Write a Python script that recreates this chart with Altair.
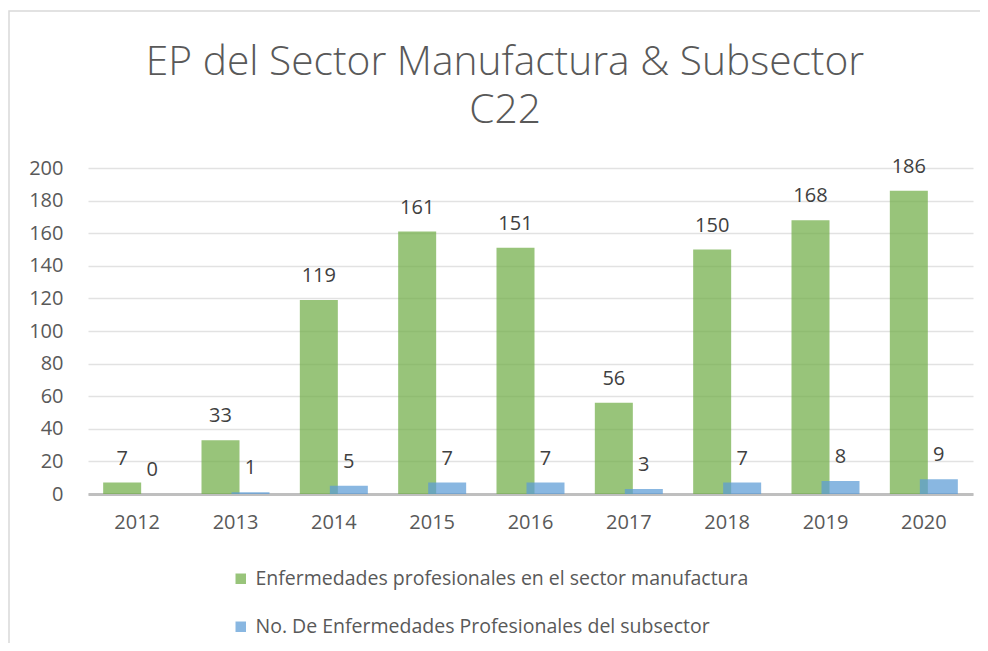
import altair as alt
import pandas as pd

years = ["2012", "2013", "2014", "2015", "2016", "2017", "2018", "2019", "2020"]
sector = [7, 33, 119, 161, 151, 56, 150, 168, 186]
subsector = [0, 1, 5, 7, 7, 3, 7, 8, 9]
series_names = [
    "Enfermedades profesionales en el sector manufactura",
    "No. De Enfermedades Profesionales del subsector",
]
colors = ["#70AD47", "#5B9BD5"]
y_ticks = [0, 20, 40, 60, 80, 100, 120, 140, 160, 180, 200]
title_lines = ["EP del Sector Manufactura & Subsector", "C22"]

rows = []
for y, a, b in zip(years, sector, subsector):
    rows.append({"year": y, "value": a, "series": series_names[0]})
    rows.append({"year": y, "value": b, "series": series_names[1]})
df = pd.DataFrame(rows)

FONT = "Open Sans"
GRAY = "#595959"

x_enc = alt.X(
    "year:N",
    sort=years,
    title=None,
    scale=alt.Scale(paddingInner=0, paddingOuter=0),
    axis=alt.Axis(
        labelAngle=0,
        labelFontSize=20,
        labelColor=GRAY,
        labelFont=FONT,
        labelPadding=18,
        ticks=False,
        domainColor="#bfbfbf",
        domainWidth=3,
        grid=False,
    ),
)
y_enc = alt.Y(
    "value:Q",
    title=None,
    scale=alt.Scale(domain=[0, 200], nice=False),
    axis=alt.Axis(
        values=y_ticks,
        labelFontSize=20,
        labelColor=GRAY,
        labelFont=FONT,
        labelPadding=25,
        ticks=False,
        domain=False,
        grid=True,
        gridColor="#e2e2e2",
        gridWidth=1.5,
    ),
)
color_enc = alt.Color(
    "series:N",
    scale=alt.Scale(domain=series_names, range=colors),
    legend=alt.Legend(
        title=None,
        orient="none",
        legendX=143,
        legendY=401,
        direction="vertical",
        columns=1,
        symbolType="square",
        symbolSize=110,
        symbolStrokeWidth=0,
        labelFontSize=19.5,
        labelFont=FONT,
        labelColor=GRAY,
        labelOffset=5,
        rowPadding=27,
        labelLimit=800,
    ),
)

base = alt.Chart(df)

green_bars = base.transform_filter(alt.datum.series == series_names[0]).mark_bar(
    width=38, xOffset=-15, opacity=0.72
).encode(x=x_enc, y=y_enc, color=color_enc)

blue_bars = base.transform_filter(alt.datum.series == series_names[1]).mark_bar(
    width=38, xOffset=15, opacity=0.72
).encode(x=x_enc, y=y_enc, color=color_enc)

green_text = base.transform_filter(alt.datum.series == series_names[0]).mark_text(
    dx=-15, dy=-18, baseline="alphabetic", fontSize=20, font=FONT, color="#404040"
).encode(x=x_enc, y=y_enc, text="value:Q")

blue_text = base.transform_filter(alt.datum.series == series_names[1]).mark_text(
    dx=15, dy=-18, baseline="alphabetic", fontSize=20, font=FONT, color="#404040"
).encode(x=x_enc, y=y_enc, text="value:Q")

one = pd.DataFrame({"a": [0]})

border = alt.Chart(one).mark_rect(
    fill="transparent", stroke="#d9d9d9", strokeWidth=1.5
).encode(
    x=alt.value(-79),
    x2=alt.value(1000),
    y=alt.value(-157),
    y2=alt.value(700),
)

title_style = dict(
    fontSize=40.7,
    font=FONT,
    fontWeight=300,
    color=GRAY,
    align="center",
    baseline="alphabetic",
)
title1 = alt.Chart(one).mark_text(**title_style).encode(
    x=alt.value(417), y=alt.value(-93), text=alt.value(title_lines[0])
)
title2 = alt.Chart(one).mark_text(**title_style).encode(
    x=alt.value(417), y=alt.value(-45), text=alt.value(title_lines[1])
)

chart = alt.layer(
    border, title1, title2, green_bars, blue_bars, green_text, blue_text
).properties(
    width=885,
    height=326,
    padding={"left": 80, "top": 160, "right": 7, "bottom": 149},
    autosize=alt.AutoSizeParams(type="none"),
    background="white",
).configure_view(stroke=None)

chart.save("out.html", embed_options={"renderer": "svg", "actions": False})
